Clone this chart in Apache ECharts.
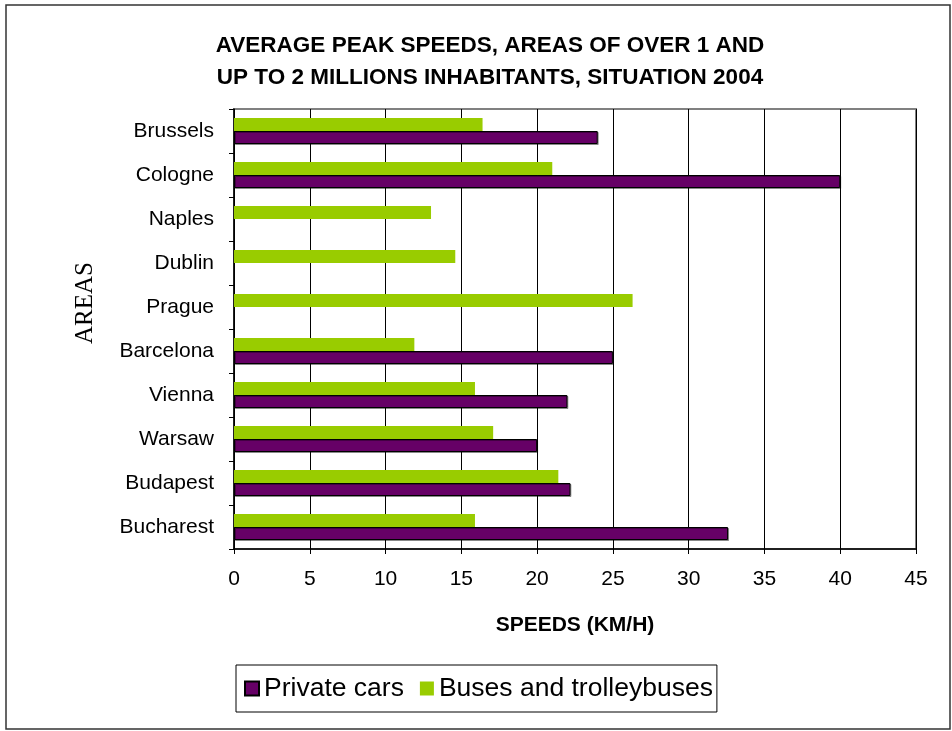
<!DOCTYPE html>
<html>
<head>
<meta charset="utf-8">
<title>Average peak speeds 2004</title>
<script src="https://cdn.jsdelivr.net/npm/echarts@6/dist/echarts.min.js"></script>
<style>
  html, body { margin: 0; padding: 0; background: #fff; }
  #chart { width: 952px; height: 731px; }
</style>
</head>
<body>
<div id="chart"></div>
<script>
// Urban areas, listed top to bottom
const areas = ['Brussels', 'Cologne', 'Naples', 'Dublin', 'Prague', 'Barcelona', 'Vienna', 'Warsaw', 'Budapest', 'Bucharest'];
// Average peak speeds in km/h (null = no data)
const privateCars = [24.0, 40.0, null, null, null, 25.0, 22.0, 20.0, 22.2, 32.6];
const buses = [16.4, 21.0, 13.0, 14.6, 26.3, 11.9, 15.9, 17.1, 21.4, 15.9];
// Speed axis settings
const speedMin = 0, speedMax = 45, speedStep = 5;

const chart = echarts.init(document.getElementById('chart'));
const sans = 'Liberation Sans, Arial, sans-serif';

chart.setOption({
  animation: false,
  backgroundColor: '#fff',
  title: {
    text: 'AVERAGE PEAK SPEEDS, AREAS OF OVER 1 AND\nUP TO 2 MILLIONS INHABITANTS, SITUATION 2004',
    left: 485, textAlign: 'center', top: 25,
    textStyle: { fontFamily: sans, fontWeight: 'bold', fontSize: 22.5, lineHeight: 32, color: '#000' }
  },
  legend: {
    data: ['Private cars', 'Buses and trolleybuses'],
    left: 236, top: 665,
    icon: 'rect',
    itemWidth: 14, itemHeight: 14, itemGap: 16,
    padding: [10, 4, 10, 8],
    borderColor: '#000', borderWidth: 1,
    textStyle: { fontFamily: sans, fontSize: 26.5, color: '#000' }
  },
  graphic: [
    { type: 'rect', shape: { x: 6, y: 5, width: 944, height: 724 }, style: { fill: 'none', stroke: '#333', lineWidth: 1.5 }, silent: true },
    { type: 'text', x: 85, y: 303, rotation: Math.PI / 2,
      style: { text: 'AREAS', font: '25px "Liberation Serif", "Times New Roman", serif', fill: '#000', align: 'center', verticalAlign: 'middle' } }
  ],
  grid: {
    left: 234, right: 36, top: 109, bottom: 182,
    show: true, borderColor: '#808080', borderWidth: 2, backgroundColor: '#fff'
  },
  xAxis: {
    type: 'value', min: speedMin, max: speedMax, interval: speedStep,
    name: 'SPEEDS (KM/H)', nameLocation: 'middle', nameGap: 66,
    nameTextStyle: { fontFamily: sans, fontWeight: 'bold', fontSize: 21, color: '#000' },
    axisLine: { show: true, lineStyle: { color: '#000', width: 1.5 } },
    axisTick: { show: true, length: 5, lineStyle: { color: '#000' } },
    axisLabel: { fontFamily: sans, fontSize: 21, color: '#000', margin: 20 },
    splitLine: { show: true, lineStyle: { color: '#000', width: 1 } }
  },
  yAxis: {
    type: 'category', data: areas, inverse: true,
    axisLine: { show: true, lineStyle: { color: '#000', width: 1.5 } },
    axisTick: { show: true, length: 5, lineStyle: { color: '#000' } },
    axisLabel: { fontFamily: sans, fontSize: 21, color: '#000', margin: 20 },
    splitLine: { show: false }
  },
  series: [
    {
      name: 'Buses and trolleybuses', type: 'bar', data: buses,
      barWidth: 13, barGap: '0%',
      itemStyle: { color: '#99CC00' }
    },
    {
      name: 'Private cars', type: 'bar', data: privateCars,
      barWidth: 13, barGap: '0%',
      itemStyle: { color: '#660066', borderColor: '#000', borderWidth: 1,
        shadowColor: 'rgba(0,0,0,0.35)', shadowOffsetX: 1, shadowOffsetY: 1 }
    }
  ]
});
</script>
</body>
</html>
